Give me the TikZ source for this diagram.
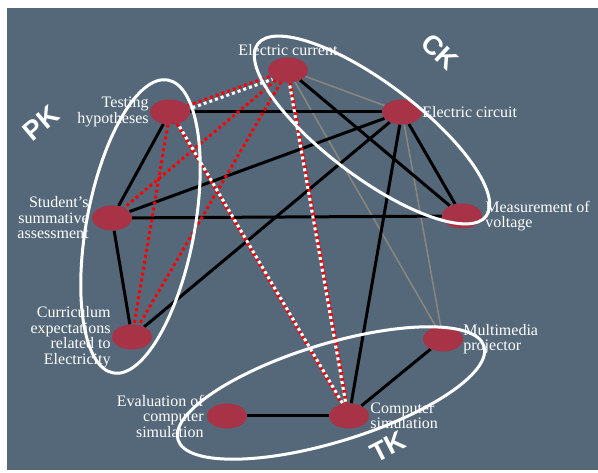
\documentclass[tikz,border=0pt]{standalone}
\usepackage{fontspec}
\setmainfont{Liberation Serif}
\newfontfamily\groupfont{Liberation Sans}
\usetikzlibrary{positioning, shapes.geometric}

\pgfdeclarelayer{background}
\pgfsetlayers{background,main}

\definecolor{slate}{RGB}{84,104,122}
\definecolor{conceptred}{RGB}{168,50,70}
\definecolor{weaklink}{RGB}{138,134,126}

\tikzset{
  concept/.style={ellipse, fill=conceptred, minimum width=40pt, minimum height=25pt, inner sep=0pt},
  caption/.style={text=white, inner sep=0pt, font=\fontsize{16}{15.5}\selectfont},
  strong/.style={line width=3pt},
  weak/.style={line width=1.5pt, weaklink},
  reddots/.style={line width=3pt, red, dash pattern=on 3pt off 3pt},
  whitedots/.style={line width=3pt, white, dash pattern=on 3pt off 3pt, dash phase=3pt},
  group/.style={white, line width=3pt},
  grouplabel/.style={text=white, font=\groupfont\bfseries\fontsize{27}{27}\selectfont},
}

\begin{document}
\begin{tikzpicture}[x=1pt, y=1pt]
    \useasboundingbox (0,0) rectangle (598,473);

    % concepts
    \node[concept] (EC)  at (288,403) {};
    \node[concept] (TH)  at (170,361) {};
    \node[concept] (ECi) at (402,361) {};
    \node[concept] (SA)  at (112,255) {};
    \node[concept] (MV)  at (462,257) {};
    \node[concept] (CE)  at (132,136) {};
    \node[concept] (MP)  at (443,134) {};
    \node[concept] (EV)  at (227,57) {};
    \node[concept] (CS)  at (349,57) {};

    % captions
    \node[caption, above=1pt of EC] (ECtext) {Electric current};
    \node[caption, align=right, left=1pt of TH] (THtext) {Testing\\hypotheses};
    \node[caption, align=right, left=3pt of SA] (SAtext) {Student's\\summative\\assessment};
    \node[caption, align=right, left=1pt of CE] (CEtext) {Curriculum\\expectations\\related to\\Electricity};
    \node[caption, align=left, right=0pt of ECi] (ECitext) {Electric circuit};
    \node[caption, align=left, right=3pt of MV] (MVtext) {Measurement of\\voltage};
    \node[caption, align=left, right=0pt of MP] (MPtext) {Multimedia\\projector};
    \node[caption, align=left, right=1pt of CS] (CStext) {Computer\\simulation};
    \node[caption, align=right, left=3pt of EV] (EVtext) {Evaluation of\\computer\\simulation};

    \begin{pgfonlayer}{background}
        \fill[slate] (7,3) rectangle (598,465);

        \draw[weak] (EC) -- (ECi);
        \draw[weak] (EC) -- (MP);
        \draw[weak] (ECi) -- (MP);

        \draw[strong] (TH) -- (ECi);
        \draw[strong] (TH) -- (SA);
        \draw[strong] (SA) -- (CE);
        \draw[strong] (SA) -- (ECi);
        \draw[strong] (SA) -- (MV);
        \draw[strong] (CE) -- (ECi);
        \draw[strong] (EC) -- (MV);
        \draw[strong] (ECi) -- (MV);
        \draw[strong] (ECi) -- (CS);
        \draw[strong] (CS) -- (MP);
        \draw[strong] (CS) -- (EV);

        \draw[reddots] (TH) -- (CE);
        \draw[reddots] (EC) -- (SA);
        \draw[reddots] (EC) -- (CE);
        \draw[reddots] (TH) -- (EC);
        \draw[reddots] (TH) -- (CS);
        \draw[reddots] (EC) -- (CS);
        \draw[whitedots, transform canvas={shift={(2pt,-3pt)}}] (TH) -- (EC);
        \draw[whitedots, transform canvas={shift={(1pt,0pt)}}] (TH) -- (CS);
        \draw[whitedots, transform canvas={shift={(-1pt,0pt)}}] (EC) -- (CS);
    \end{pgfonlayer}

    % groups
    \draw[group] (140.5,246.5) circle[x radius=149, y radius=54, rotate=79.4];
    \draw[group] (372,343) circle[x radius=143, y radius=47, rotate=-37];
    \draw[group] (331,80) circle[x radius=160, y radius=49, rotate=17];

    \node[grouplabel, rotate=40] (PK) at (41,350) {PK};
    \node[grouplabel, rotate=-43] (CK) at (440,421) {CK};
    \node[grouplabel, rotate=27] (TK) at (388,26) {TK};
\end{tikzpicture}
\end{document}
